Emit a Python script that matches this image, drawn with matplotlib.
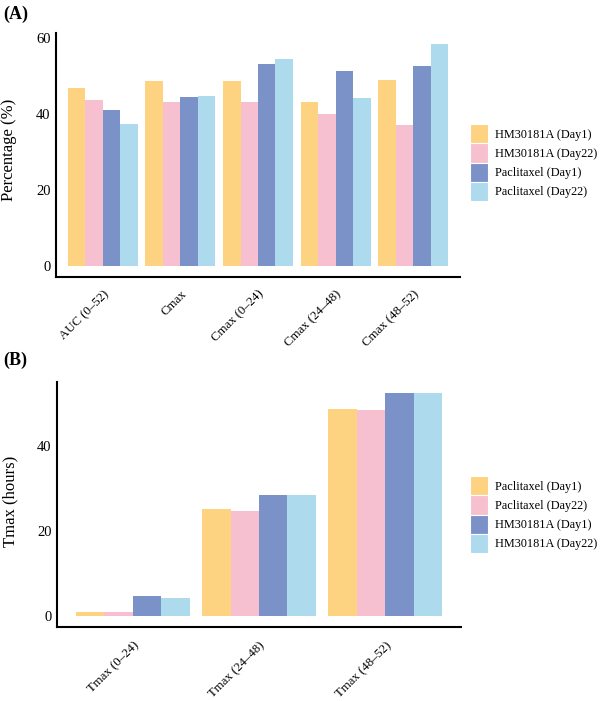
import matplotlib
matplotlib.use("Agg")
from matplotlib import pyplot as plt
from matplotlib.patches import Patch
from matplotlib import transforms
import numpy as np

plt.rcParams['font.family'] = ['Liberation Serif', 'DejaVu Serif']

# Panel A data
cats_a = ['AUC (0–52)', 'Cmax', 'Cmax (0–24)', 'Cmax (24–48)', 'Cmax (48–52)']
series_a = ['HM30181A (Day1)', 'HM30181A (Day22)', 'Paclitaxel (Day1)', 'Paclitaxel (Day22)']
hm_day1_a = [46.7, 48.6, 48.6, 43.1, 48.9]
hm_day22_a = [43.7, 43.2, 43.2, 39.8, 37.1]
pac_day1_a = [40.9, 44.5, 53.1, 51.1, 52.6]
pac_day22_a = [37.2, 44.7, 54.3, 44.0, 58.3]

# Panel B data
cats_b = ['Tmax (0–24)', 'Tmax (24–48)', 'Tmax (48–52)']
series_b = ['Paclitaxel (Day1)', 'Paclitaxel (Day22)', 'HM30181A (Day1)', 'HM30181A (Day22)']
pac_day1_b = [0.8, 25.2, 48.9]
pac_day22_b = [0.8, 24.7, 48.6]
hm_day1_b = [4.8, 28.6, 52.6]
hm_day22_b = [4.3, 28.6, 52.6]

colors = ['#FDD281', '#F7C0D0', '#7A92C8', '#AEDAEE']

W, H = 603, 701
fig = plt.figure(figsize=(W / 100, H / 100), dpi=100)


def px_axes(x0, y0, x1, y1):
    return fig.add_axes([x0 / W, 1 - y1 / H, (x1 - x0) / W, (y1 - y0) / H])


def draw_panel(ax, cats, series, values, ylabel, yticks, legend_top, label_y, xpad):
    n = len(series)
    x = np.arange(len(cats))
    bw = 0.9 / n
    handles = []
    for i, (name, vals) in enumerate(zip(series, values)):
        ax.bar(x - 0.45 + bw * (i + 0.5), vals, width=bw, color=colors[i], linewidth=0)
        handles.append(Patch(facecolor=colors[i], edgecolor='white', linewidth=0.8, label=name))
    ymax = max(max(v) for v in values)
    ax.set_xlim(-0.6, len(cats) - 0.4)
    ax.set_ylim(-0.05 * ymax, ymax * 1.05)
    ax.set_yticks(yticks)
    ax.tick_params(axis='y', length=0, labelsize=10.5, pad=4)
    ax.set_xticks(x)
    offset = transforms.ScaledTranslation(13 / 100, 0, fig.dpi_scale_trans)
    ax.set_xticklabels(cats, rotation=45, ha='right', va='top', rotation_mode='anchor')
    for lab in ax.get_xticklabels():
        lab.set_transform(lab.get_transform() + offset)
    ax.tick_params(axis='x', length=0, labelsize=9.2, pad=xpad)
    for s in ['top', 'right']:
        ax.spines[s].set_visible(False)
    for s in ['left', 'bottom']:
        ax.spines[s].set_linewidth(1.5)
    ax.set_ylabel(ylabel, fontsize=12, va='center')
    ax.yaxis.set_label_coords(-0.116, label_y)
    fig.legend(handles=handles, loc='upper left',
               bbox_to_anchor=(470 / W, 1 - legend_top / H),
               frameon=False, fontsize=8.8, handlelength=1.5, handleheight=2.05,
               handletextpad=0.55, labelspacing=0.0, borderpad=0, borderaxespad=0)


ax_a = px_axes(56, 33, 460, 277)
draw_panel(ax_a, cats_a, series_a, [hm_day1_a, hm_day22_a, pac_day1_a, pac_day22_a],
           'Percentage (%)', [0, 20, 40, 60], 124, 0.52, 8)

ax_b = px_axes(57, 382, 461, 627)
draw_panel(ax_b, cats_b, series_b, [pac_day1_b, pac_day22_b, hm_day1_b, hm_day22_b],
           'Tmax (hours)', [0, 20, 40], 476, 0.514, 9)

fig.text(3 / W, 1 - 14 / H, '(A)', fontsize=13, fontweight='bold', va='center', ha='left')
fig.text(3 / W, 1 - 360 / H, '(B)', fontsize=13, fontweight='bold', va='center', ha='left')

fig.savefig('out.png', dpi=100)
